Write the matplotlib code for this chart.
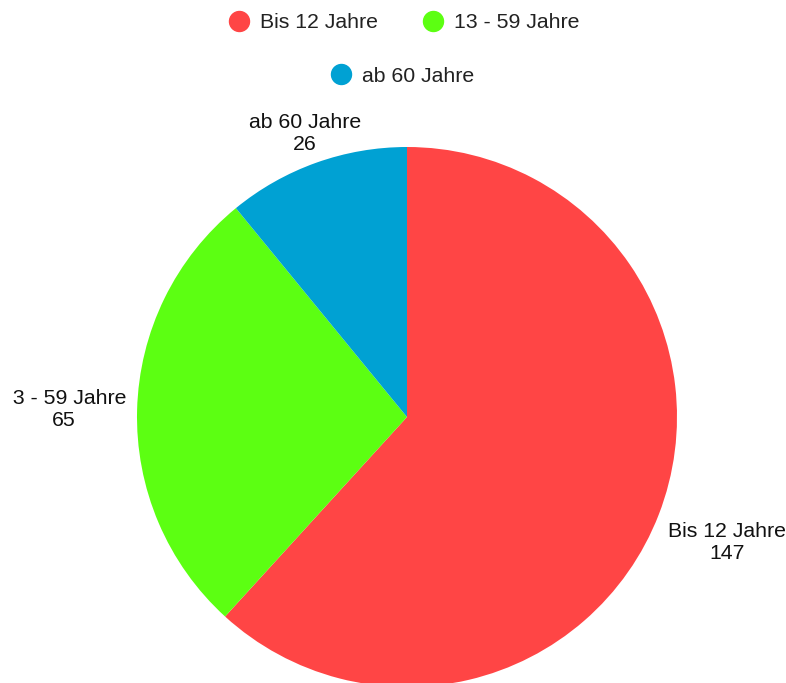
# Altersgruppen als Kreisdiagramm

import numpy as np
import matplotlib
matplotlib.use('Agg')
import matplotlib.pyplot as plt
from matplotlib.lines import Line2D
from matplotlib.transforms import Bbox

labels = ['Bis 12 Jahre', '13 - 59 Jahre', 'ab 60 Jahre']
values = [147, 65, 26]
colors = ['#ff4545', '#5cff12', '#00a1d3']
label_dist = [1.27, 1.27, 1.12]  # abstand der beschriftung (radius)

plt.rcParams['font.family'] = ['Liberation Sans', 'DejaVu Sans']
fs = 15.3

W, H = 786, 683
fig = plt.figure(figsize=(W/100, H/100), dpi=100)
cx, cy, r = 407, 417, 270
ax = fig.add_axes([(cx-r)/W, (H-cy-r)/H, 2*r/W, 2*r/H])
wedges, _ = ax.pie(values, colors=colors, startangle=90, counterclock=False,
                   radius=1, wedgeprops=dict(linewidth=0))
ax.set_xlim(-1, 1)
ax.set_ylim(-1, 1)
ax.set_aspect('auto')
ax.axis('off')

clip = Bbox([[13, 0], [W, H]])
for w, lab, val, d in zip(wedges, labels, values, label_dist):
    ang = np.deg2rad((w.theta1 + w.theta2) / 2)
    t = ax.text(d*np.cos(ang), d*np.sin(ang) - 0.005, lab+'\n'+str(val), ha='center', va='center',
                fontsize=fs, color='#111111', linespacing=1.22)
    t.set_clip_box(clip)
    t.set_clip_on(True)

handles = [Line2D([], [], marker='o', ls='', markersize=14.4, color=c) for c in colors]
leg1 = fig.legend(handles[:2], labels[:2], ncol=2, loc='center', bbox_to_anchor=(0.514, 1-23/H),
                  frameon=False, fontsize=fs, handlelength=1, handletextpad=0.5, columnspacing=2.1)
for t in leg1.get_texts():
    t.set_color('#222222')
leg2 = fig.legend(handles[2:], labels[2:], loc='center', bbox_to_anchor=(0.512, 1-76/H),
                  frameon=False, fontsize=fs, handlelength=1, handletextpad=0.5)
for t in leg2.get_texts():
    t.set_color('#222222')

plt.savefig('out.png', dpi=100)
